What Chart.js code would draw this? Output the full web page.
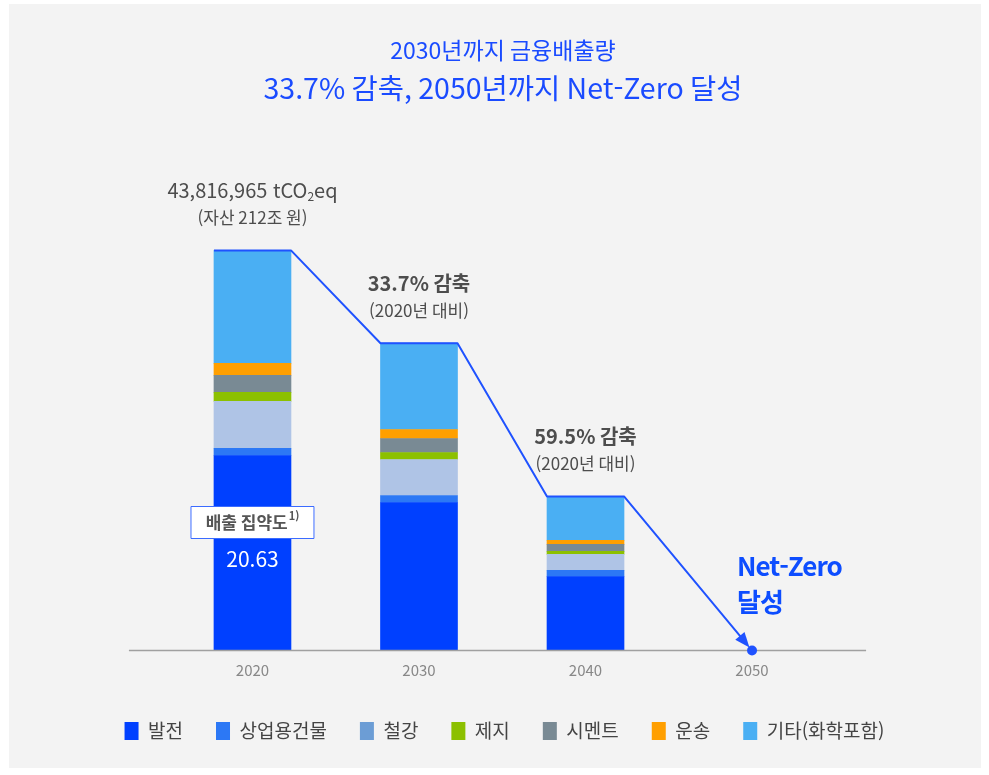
<!DOCTYPE html>
<html lang="ko">
<head>
<meta charset="utf-8">
<script src="https://cdn.jsdelivr.net/npm/chart.js@4.4.1/dist/chart.umd.min.js"></script>
<style>
  body { margin: 0; background: #fff; }
  .panel { position: absolute; left: 9px; top: 4px; width: 972px; height: 764px; background: #f3f3f3; }
  .wrap { position: absolute; left: 0; top: 0; width: 989px; height: 775px; }
</style>
</head>
<body>
<div class="panel"></div>
<div class="wrap"><canvas id="emissionChart"></canvas></div>
<script>
// 연도별 금융배출량 (백만 tCO2eq, 그림에서 읽은 추정값)
const years = [2020, 2030, 2040, 2050];
const sectors = ['발전', '상업용건물', '철강', '제지', '시멘트', '운송', '기타(화학포함)'];
const power      = [21.36, 16.21, 8.11, 0];
const commercial = [0.77, 0.77, 0.66, 0];
const steel      = [5.15, 3.94, 1.75, 0];
const paper      = [0.99, 0.77, 0.33, 0];
const cement     = [1.86, 1.53, 0.77, 0];
const transport  = [1.31, 0.99, 0.44, 0];
const others     = [12.38, 9.45, 4.82, 0];
const barColors    = ['#0040ff', '#2c78f5', '#afc4e6', '#8cc000', '#798a94', '#ff9f00', '#4aaff3'];
const legendColors = ['#0040ff', '#2c78f5', '#6c9dd5', '#8cc000', '#798a94', '#ff9f00', '#4aaff3'];

// baseline runs a bit past the first and last year
const axisFrom = 2012.58;
const axisTo = 2056.85;

const topLabels = [
    ['43,816,965 tCO', '(자산 212조 원)'],
    ['33.7% 감축', '(2020년 대비)'],
    ['59.5% 감축', '(2020년 대비)']
];

const FONT = "'Noto Sans CJK KR', 'Noto Sans', sans-serif";
const BLUE = '#1a4bff';
Chart.defaults.font.family = FONT;

function text(ctx, str, x, y, font, color, align) {
    ctx.font = font;
    ctx.fillStyle = color;
    ctx.textAlign = align || 'center';
    ctx.textBaseline = 'middle';
    ctx.fillText(str, x, y);
}

// Title, baseline, reduction path and labels
const annotate = {
    id: 'annotate',
    beforeDatasetsDraw(chart) {
        const ctx = chart.ctx;
        ctx.save();
        text(ctx, '2030년까지 금융배출량', 503, 50, '23px ' + FONT, BLUE);
        text(ctx, '33.7% 감축, 2050년까지 Net-Zero 달성', 503, 88, '28.5px ' + FONT, BLUE);
        ctx.restore();
    },
    afterDatasetsDraw(chart) {
        const ctx = chart.ctx;
        const xs = chart.scales.x;
        const last = chart.data.datasets.length - 1;
        const tops = chart.getDatasetMeta(last).data.map(el => ({ x: el.x, y: el.y, w: el.width }));
        const y0 = chart.scales.y.getPixelForValue(0);
        ctx.save();

        ctx.strokeStyle = '#a0a0a0';
        ctx.lineWidth = 1.5;
        ctx.beginPath();
        ctx.moveTo(xs.getPixelForValue(axisFrom), y0);
        ctx.lineTo(xs.getPixelForValue(axisTo), y0);
        ctx.stroke();

        // outline of the reduction path
        ctx.strokeStyle = '#1f52ff';
        ctx.lineWidth = 2;
        ctx.lineJoin = 'round';
        ctx.beginPath();
        for (let i = 0; i < 3; i++) {
            const t = tops[i];
            if (i === 0) ctx.moveTo(t.x - t.w / 2, t.y);
            else ctx.lineTo(t.x - t.w / 2, t.y);
            ctx.lineTo(t.x + t.w / 2, t.y);
        }
        const end = tops[3];
        const sx = tops[2].x + tops[2].w / 2, sy = tops[2].y;
        const dx = end.x - sx, dy = end.y - sy;
        const len = Math.hypot(dx, dy);
        const ux = dx / len, uy = dy / len;
        const tipX = end.x - ux * 4, tipY = end.y - uy * 4;
        ctx.lineTo(tipX - ux * 10, tipY - uy * 10);
        ctx.stroke();

        ctx.fillStyle = '#1f52ff';
        ctx.beginPath();
        ctx.moveTo(tipX, tipY);
        ctx.lineTo(tipX - ux * 15 - uy * 6, tipY - uy * 15 + ux * 6);
        ctx.lineTo(tipX - ux * 15 + uy * 6, tipY - uy * 15 - ux * 6);
        ctx.closePath();
        ctx.fill();
        ctx.beginPath();
        ctx.arc(end.x, end.y, 5, 0, Math.PI * 2);
        ctx.fill();

        // labels above bars
        const grey = '#4d4d4d';
        {
            const t = tops[0];
            const big = '20px ' + FONT, small = '12px ' + FONT;
            ctx.font = big;
            const w1 = ctx.measureText(topLabels[0][0]).width;
            const w3 = ctx.measureText('eq').width;
            ctx.font = small;
            const w2 = ctx.measureText('2').width;
            const x = t.x - (w1 + w2 + w3) / 2;
            const y = t.y - 60;
            text(ctx, topLabels[0][0], x, y, big, grey, 'left');
            text(ctx, '2', x + w1, y + 6, small, grey, 'left');
            text(ctx, 'eq', x + w1 + w2, y, big, grey, 'left');
            text(ctx, topLabels[0][1], t.x, t.y - 33, '17px ' + FONT, grey);
        }
        for (let i = 1; i < 3; i++) {
            const t = tops[i];
            text(ctx, topLabels[i][0], t.x, t.y - 60, 'bold 20px ' + FONT, grey);
            text(ctx, topLabels[i][1], t.x, t.y - 33, '17px ' + FONT, grey);
        }

        // intensity box on the 2020 bar
        const bx = tops[0].x;
        const by = y0 - 128;
        ctx.fillStyle = '#ffffff';
        ctx.fillRect(bx - 62, by - 16.5, 124, 33);
        ctx.strokeStyle = '#3b6bff';
        ctx.lineWidth = 1;
        ctx.strokeRect(bx - 61.5, by - 16, 123, 32);
        ctx.font = 'bold 17px ' + FONT;
        const lw = ctx.measureText('배출 집약도').width;
        ctx.font = 'bold 11px ' + FONT;
        const sw = ctx.measureText('1)').width + 1;
        const lx = bx - (lw + sw) / 2;
        text(ctx, '배출 집약도', lx, by, 'bold 17px ' + FONT, '#555', 'left');
        text(ctx, '1)', lx + lw + 1, by - 7, 'bold 11px ' + FONT, '#555', 'left');
        text(ctx, '20.63', bx, y0 - 91, '21px ' + FONT, '#ffffff');

        // Net-Zero
        ctx.letterSpacing = '-1px';
        text(ctx, 'Net-Zero', 737, y0 - 84, 'bold 26px ' + FONT, '#0d4dff', 'left');
        text(ctx, '달성', 737, y0 - 48, 'bold 26px ' + FONT, '#0d4dff', 'left');
        ctx.restore();
    }
};

const seriesData = [power, commercial, steel, paper, cement, transport, others];

new Chart(document.getElementById('emissionChart'), {
    type: 'bar',
    data: {
        datasets: sectors.map((name, i) => ({
            label: name,
            data: years.map((yr, j) => ({ x: yr, y: seriesData[i][j] })),
            backgroundColor: barColors[i],
            borderWidth: 0,
            barThickness: 77
        }))
    },
    options: {
        responsive: true,
        maintainAspectRatio: false,
        animation: false,
        layout: { padding: { top: 194, left: 50, right: 30, bottom: 24.5 } },
        plugins: {
            tooltip: { enabled: false },
            legend: {
                position: 'bottom',
                labels: {
                    boxWidth: 14,
                    boxHeight: 18,
                    padding: 33,
                    color: '#444',
                    font: { size: 19 },
                    generateLabels(chart) {
                        return sectors.map((name, i) => ({
                            text: name,
                            fillStyle: legendColors[i],
                            strokeStyle: legendColors[i],
                            lineWidth: 0,
                            fontColor: '#444',
                            datasetIndex: i
                        }));
                    }
                }
            }
        },
        scales: {
            x: {
                type: 'linear',
                stacked: true,
                offset: false,
                min: 2007.84,
                max: 2062.43,
                afterBuildTicks: s => { s.ticks = years.map(v => ({ value: v })); },
                afterFit: s => { s.height += 6; },
                grid: { display: false },
                border: { display: false },
                ticks: { color: '#888', font: { size: 15 }, padding: 3, callback: v => String(v) }
            },
            y: {
                stacked: true,
                display: false,
                min: 0,
                max: 50
            }
        }
    },
    plugins: [annotate]
});
</script>
</body>
</html>
